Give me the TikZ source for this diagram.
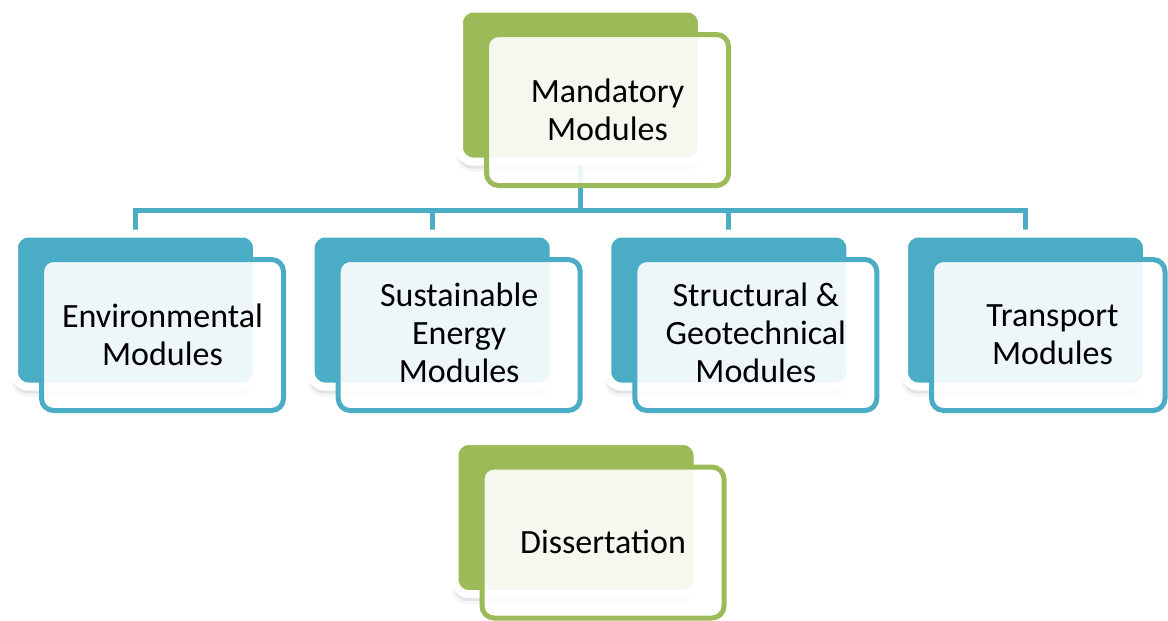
\documentclass[tikz,border=0pt]{standalone}
\usepackage{fontspec}
\setmainfont{Carlito}
\usetikzlibrary{shadows}
\definecolor{leaf}{HTML}{9BBB59}
\definecolor{sea}{HTML}{4BACC6}
\pgfdeclarelayer{wires}
\pgfsetlayers{wires,main}

\tikzset{
  % coloured card at the back, with a white rim and a soft shadow
  backbox/.style={fill=#1, draw=white, line width=8pt, rounded corners=14pt,
    minimum width=243pt, minimum height=153pt, inner sep=0pt, outer sep=0pt,
    general shadow={fill=black, opacity=0.04, shadow xshift=-2pt, shadow yshift=-10pt},
    general shadow={fill=black, opacity=0.07, shadow xshift=-1pt, shadow yshift=-7pt}},
  % translucent outlined card in front
  frontbox/.style={draw=#1, line width=5pt, fill=white, fill opacity=0.9,
    draw opacity=1, rounded corners=12pt, minimum width=242pt,
    minimum height=151pt, inner sep=0pt, outer sep=0pt},
  modtext/.style={align=center, inner sep=0pt, text=black,
    font=\fontsize{34}{38}\selectfont},
  conn/.style={draw=sea, line width=5pt},
}

% text is cut off at the lower edge of the coloured face of a back card
\newcommand\faceclip[1]{\clip
  ([shift={(-100pt,4pt)}]#1.south west) rectangle ([shift={(100pt,100pt)}]#1.north east);}

\begin{document}
\begin{tikzpicture}[x=1pt,y=-1pt]
\useasboundingbox (0,0) rectangle (1168,621);

% ---- top: Mandatory Modules
\node[backbox=leaf] (mand) at (580.5,85) {};
\node[frontbox=leaf] (mandF) at ([shift={(27,25)}]mand.center) {};
\begin{scope}
  \faceclip{mand}
  \node[modtext] (mandT) at ([shift={(27,24.5)}]mand.center) {Mandatory\\Modules};
\end{scope}

% ---- module groups
\node[backbox=sea] (env) at (135.5,310) {};
\node[frontbox=sea] (envF) at ([shift={(27,25)}]env.center) {};
\begin{scope}
  \faceclip{env}
  \node[modtext] (envT) at ([shift={(27,24.5)}]env.center) {Environmental\\Modules};
\end{scope}

\node[backbox=sea] (sus) at (432.2,310) {};
\node[frontbox=sea] (susF) at ([shift={(27,25)}]sus.center) {};
\begin{scope}
  \faceclip{sus}
  \node[modtext] (susT) at ([shift={(27,23)}]sus.center) {Sustainable\\Energy\\Modules};
\end{scope}

\node[backbox=sea] (str) at (728.8,310) {};
\node[frontbox=sea] (strF) at ([shift={(27,25)}]str.center) {};
\begin{scope}
  \faceclip{str}
  \node[modtext] (strT) at ([shift={(27,23)}]str.center) {Structural \&\\Geotechnical\\Modules};
\end{scope}

\node[backbox=sea] (tra) at (1025.5,310) {};
\node[frontbox=sea, minimum width=233.5pt] (traF) at (1048.25,335) {};
\begin{scope}
  \faceclip{tra}
  \node[modtext] (traT) at ([shift={(27,24.5)}]tra.center) {Transport\\Modules};
\end{scope}

% ---- bottom: Dissertation
\node[backbox=leaf] (diss) at (576,517.5) {};
\node[frontbox=leaf] (dissF) at ([shift={(27,25)}]diss.center) {};
\begin{scope}
  \faceclip{diss}
  \node[modtext] (dissT) at ([shift={(27,24.5)}]diss.center) {Dissertation};
\end{scope}

% ---- tree connectors, kept behind the cards
\coordinate (bus) at (580.5,210.5);
\begin{pgfonlayer}{wires}
  \draw[conn] (mand.south) -- (bus) -| (env.north);
  \draw[conn] (mand.south) -- (bus) -| (sus.north);
  \draw[conn] (mand.south) -- (bus) -| (str.north);
  \draw[conn] (mand.south) -- (bus) -| (tra.north);
\end{pgfonlayer}
\end{tikzpicture}
\end{document}
